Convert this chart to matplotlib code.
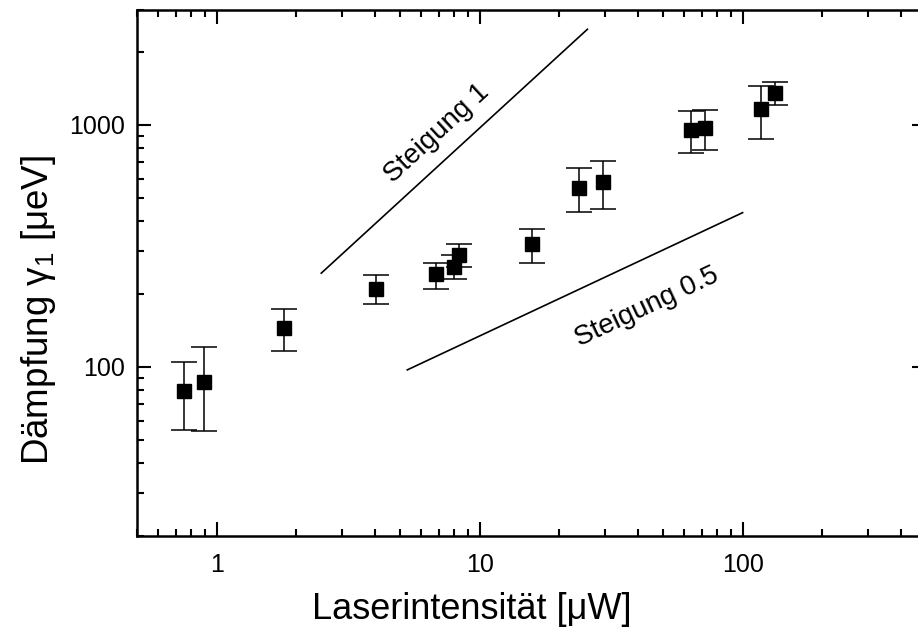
import numpy as np
import matplotlib
matplotlib.use("Agg")
import matplotlib.pyplot as plt
from matplotlib.ticker import LogLocator, NullFormatter

plt.rcParams['font.family'] = ['Liberation Sans', 'DejaVu Sans']
plt.rcParams['mathtext.fontset'] = 'custom'
plt.rcParams['mathtext.rm'] = 'Liberation Sans'
plt.rcParams['mathtext.it'] = 'Liberation Sans'
plt.rcParams['mathtext.default'] = 'regular'

# measured points (laser intensity in uW, damping in ueV)
intensity = [0.754, 0.898, 1.81, 4.04, 6.81, 7.97, 8.35, 15.8, 23.8, 29.5, 63.7, 72.1, 117.5, 132.8]
gamma1 = [79.8, 86.7, 144.5, 209.4, 241.6, 259.8, 290.3, 321.4, 550.8, 579.7, 953, 975, 1161, 1360]
err_top = [105, 120.6, 173, 240, 269.9, 290.3, 321.4, 370.7, 666, 712, 1146, 1153, 1453, 1501]
err_bot = [54.9, 54.1, 116.8, 181.6, 210, 230.3, 259.8, 270, 438.4, 449.7, 764, 788, 873, 1209]

# guide lines
slope1_x = [2.5, 25.7]
slope1_y = [244, 2486]
slope05_x = [5.31, 100]
slope05_y = [97.2, 434]

xticks = [1, 10, 100]
xticklabels = ['1', '10', '100']
yticks = [100, 1000]
yticklabels = ['100', '1000']

lower = np.array(gamma1) - np.array(err_bot)
upper = np.array(err_top) - np.array(gamma1)

fig = plt.figure(figsize=(9.18, 6.3), dpi=100)
ax = fig.add_axes([0.1497, 0.1492, 0.8595, 0.8357])

ax.errorbar(intensity, gamma1, yerr=[lower, upper], fmt='s', color='black',
            markersize=10, elinewidth=1.1, capsize=9.4, capthick=1.1, zorder=3)

ax.plot(slope1_x, slope1_y, color='black', lw=1.2)
ax.plot(slope05_x, slope05_y, color='black', lw=1.2)

ax.text(6.87, 925, 'Steigung 1', rotation=42.7, rotation_mode='anchor',
        ha='center', va='center', fontsize=20)
ax.text(43.4, 176.5, 'Steigung 0.5', rotation=25.2, rotation_mode='anchor',
        ha='center', va='center', fontsize=20)

ax.set_xscale('log')
ax.set_yscale('log')
ax.set_xlim(0.5, 500)
ax.set_ylim(20, 3000)

ax.set_xticks(xticks)
ax.set_xticklabels(xticklabels)
ax.set_yticks(yticks)
ax.set_yticklabels(yticklabels)
ax.xaxis.set_minor_locator(LogLocator(base=10, subs=np.arange(2, 10)))
ax.yaxis.set_minor_locator(LogLocator(base=10, subs=np.arange(2, 10)))
ax.xaxis.set_minor_formatter(NullFormatter())
ax.yaxis.set_minor_formatter(NullFormatter())

ax.tick_params(which='both', direction='in', top=True, right=True, width=1.5)
ax.tick_params(which='major', length=10, labelsize=18)
ax.tick_params(which='minor', length=5)
ax.tick_params(axis='x', which='major', pad=12)
ax.tick_params(axis='y', which='major', pad=9)

for s in ax.spines.values():
    s.set_linewidth(1.8)

ax.set_xlabel('Laserintensität [μW]', fontsize=26)
ax.set_ylabel('Dämpfung γ$_1$ [μeV]', fontsize=26.5)
ax.xaxis.set_label_coords(0.424, -0.106)
ax.yaxis.set_label_coords(-0.101, 0.429)

fig.savefig('out.png', dpi=100)
